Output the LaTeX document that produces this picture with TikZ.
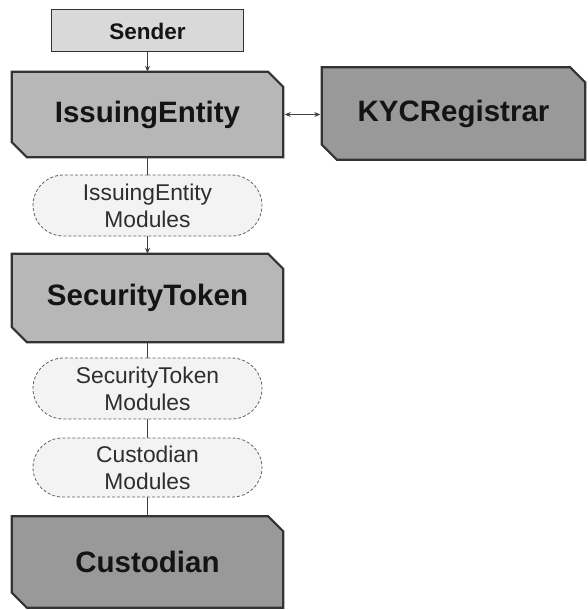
\documentclass[tikz,border=0pt]{standalone}
\usepackage{fontspec}
\setmainfont{Liberation Sans}
\usetikzlibrary{arrows.meta,backgrounds,shapes.misc}

\definecolor{senderfill}{HTML}{D9D9D9}
\definecolor{midfill}{HTML}{B7B7B7}
\definecolor{darkfill}{HTML}{999999}
\definecolor{modfill}{HTML}{F3F3F3}
\definecolor{edge}{HTML}{333333}

\tikzset{
  x=1pt, y=1pt,
  entity/.style={shape=rectangle, inner sep=0pt, font=\bfseries\fontsize{29.5}{32}\selectfont, text=black!92},
  sendbox/.style={shape=rectangle, inner sep=0pt, draw=edge, line width=1pt, fill=senderfill,
    font=\bfseries\fontsize{22.5}{26}\selectfont, text=black!92},
  modbox/.style={shape=rounded rectangle, inner sep=0pt, draw=black!62,
    dash pattern=on 3pt off 2pt, line width=0.8pt, fill=modfill, align=center,
    font=\fontsize{22.8}{27}\selectfont, text=black!82},
  link/.style={draw=black!75, line width=0.9pt},
  tip/.style={-{Stealth[length=6pt,width=5pt]}},
  chamfer/.style={draw=edge, line width=2.2pt, line join=miter},
}

% a box with its top-right and bottom-left corners cut off
\newcommand\cutcorners[2]{%
  \path[chamfer, fill=#2]
    (#1.north west) -- ([xshift=-15pt]#1.north east) -- ([yshift=-15pt]#1.north east)
    -- (#1.south east) -- ([xshift=15pt]#1.south west) -- ([yshift=15pt]#1.south west) -- cycle;}

\begin{document}
\begin{tikzpicture}
\useasboundingbox (0,0) rectangle (587,-610);

\node[sendbox, minimum width=192pt, minimum height=42pt] (sender) at (147.5,-31) {Sender};
\node[entity, minimum width=271pt, minimum height=85pt] (issuer) at (147.5,-114.5) {IssuingEntity};
\node[entity, minimum width=263pt, minimum height=92pt] (kyc) at (453.5,-113.5) {KYCRegistrar};
\node[modbox, minimum width=229pt, minimum height=61pt] (issuermods) at (147.5,-205.5) {IssuingEntity\\Modules};
\node[entity, minimum width=271pt, minimum height=88pt] (token) at (147.5,-298) {SecurityToken};
\node[modbox, minimum width=229pt, minimum height=61pt] (tokenmods) at (147.5,-388.5) {SecurityToken\\Modules};
\node[modbox, minimum width=229pt, minimum height=59pt] (custmods) at (147.5,-467.5) {Custodian\\Modules};
\node[entity, minimum width=271pt, minimum height=91pt] (custodian) at (147.5,-562) {Custodian};

\begin{scope}[on background layer]
  \cutcorners{issuer}{midfill}
  \cutcorners{kyc}{darkfill}
  \cutcorners{token}{midfill}
  \cutcorners{custodian}{darkfill}
\end{scope}

\draw[link, tip] (sender.south) -- (issuer.north);
\draw[link] (issuer.south) -- (issuermods.north);
\draw[link, tip] (issuermods.south) -- (token.north);
\draw[link] (token.south) -- (tokenmods.north);
\draw[link] (tokenmods.south) -- (custmods.north);
\draw[link] (custmods.south) -- (custodian.north);
\draw[link, {Stealth[length=6pt,width=5pt]}-{Stealth[length=6pt,width=5pt]}]
  ([xshift=1.5pt]issuer.east) -- ([xshift=-1.5pt]issuer.east -| kyc.west);
\end{tikzpicture}
\end{document}
